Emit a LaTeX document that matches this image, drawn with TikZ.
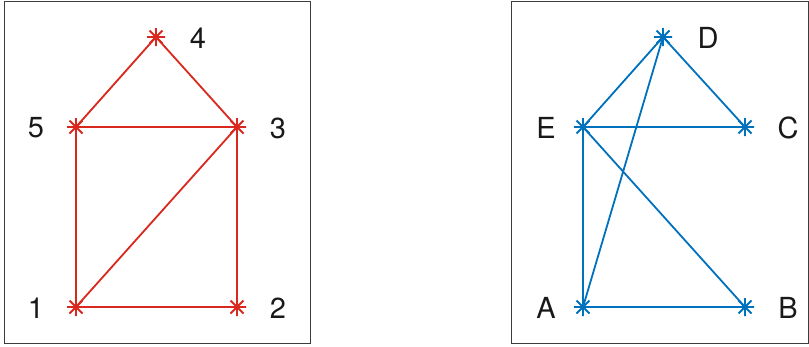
\documentclass[tikz,border=0pt]{standalone}
\usepackage{fontspec}
\setmainfont{TeX Gyre Heros}
\definecolor{mred}{RGB}{217,40,30}
\definecolor{mblue}{RGB}{0,114,189}
\definecolor{frame}{RGB}{60,60,60}
\begin{document}
\begin{tikzpicture}[x=1pt,y=-1pt,
  vtx/.style={inner sep=0pt,minimum size=0pt,outer sep=0pt},
  lbl/.style={inner sep=0pt,text=black!90,font=\fontsize{29}{29}\selectfont},
  edge/.style={line width=1.8pt},
  box/.style={draw=frame,line width=1pt},
  star/.pic={\draw[line width=1.8pt] (-9,0)--(9,0) (0,-9)--(0,9) (-6.5,-6.5)--(6.5,6.5) (-6.5,6.5)--(6.5,-6.5);}
]
\useasboundingbox (0,0) rectangle (809,346);
\draw[box] (4,1.5) rectangle (310,343);
\draw[box] (511.5,1.5) rectangle (808.5,343);
% left graph
\node[vtx] (n1) at (76,307) {};
\node[vtx] (n2) at (237,307) {};
\node[vtx] (n3) at (237,127) {};
\node[vtx] (n4) at (156,37) {};
\node[vtx] (n5) at (76,127) {};
\draw[edge,mred] (n4)--(n5) (n4)--(n3) (n5)--(n3) (n5)--(n1) (n3)--(n2) (n1)--(n3) (n1)--(n2);
\foreach \n in {n1,n2,n3,n4,n5} \pic[mred] at (\n) {star};
\node[lbl] (l1) at (36,308) {1};
\node[lbl] (l2) at (278,308) {2};
\node[lbl] (l3) at (278,128) {3};
\node[lbl] (l4) at (198,38) {4};
\node[lbl] (l5) at (36,128) {5};
% right graph
\node[vtx] (nA) at (583,307) {};
\node[vtx] (nB) at (745,307) {};
\node[vtx] (nC) at (745,127) {};
\node[vtx] (nD) at (663,37) {};
\node[vtx] (nE) at (583,127) {};
\draw[edge,mblue] (nD)--(nE) (nD)--(nC) (nD)--(nA) (nE)--(nC) (nE)--(nA) (nE)--(nB) (nA)--(nB);
\foreach \n in {nA,nB,nC,nD,nE} \pic[mblue] at (\n) {star};
\node[lbl] (lA) at (546,308) {A};
\node[lbl] (lB) at (788,308) {B};
\node[lbl] (lC) at (788,128) {C};
\node[lbl] (lD) at (708,38) {D};
\node[lbl] (lE) at (546,128) {E};
\end{tikzpicture}
\end{document}
